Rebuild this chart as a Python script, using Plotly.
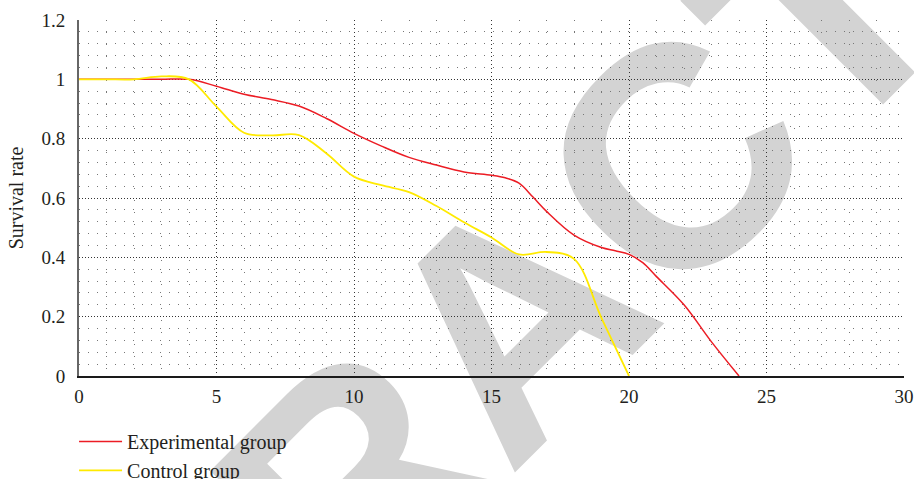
import plotly.graph_objects as go

# ---- data ----
exp_x = [0, 1, 2, 3, 4, 5, 6, 7, 8, 9, 10, 11, 12, 13, 14, 15, 15.5, 16, 16.5, 17, 18, 19, 19.5, 20, 20.5, 21, 22, 23, 24]
exp_y = [1.0, 1.0, 1.0, 1.0, 1.0, 0.977, 0.95, 0.932, 0.91, 0.868, 0.818, 0.775, 0.737, 0.711,
         0.688, 0.677, 0.668, 0.65, 0.604, 0.555, 0.475, 0.433, 0.422, 0.41, 0.382, 0.335, 0.24, 0.115, 0.0]

ctl_x = [0, 1, 2, 3, 4, 5, 6, 7, 8, 9, 10, 11, 12, 13, 14, 15, 16, 17, 18, 19, 20]
ctl_y = [1.0, 1.0, 1.0, 1.01, 1.0, 0.908, 0.82, 0.811, 0.812, 0.75, 0.672, 0.643, 0.62, 0.573,
         0.518, 0.467, 0.41, 0.418, 0.395, 0.195, 0.0]

x_tick_vals = [0, 5, 10, 15, 20, 25, 30]
y_tick_vals = [0, 0.2, 0.4, 0.6, 0.8, 1.0, 1.2]
y_tick_text = ["0", "0.2", "0.4", "0.6", "0.8", "1", "1.2"]

series_names = ["Experimental group", "Control group"]
y_title = "Survival rate"
watermark = "RETRACTED"

SERIF = "Liberation Serif, Times New Roman, serif"
TXT = "#231f20"

fig = go.Figure()
fig.add_trace(go.Scatter(x=exp_x, y=exp_y, mode="lines", name=series_names[0],
                         line=dict(color="#ec1c24", width=1.5, shape="spline", smoothing=1)))
fig.add_trace(go.Scatter(x=ctl_x, y=ctl_y, mode="lines", name=series_names[1],
                         line=dict(color="#ffea00", width=1.8, shape="spline", smoothing=1)))

# watermark (below the grid)
fig.add_shape(type="rect", xref="paper", yref="paper",
              x0=0.499, x1=0.501, y0=0.214, y1=0.216,
              layer="below", line=dict(width=0), fillcolor="rgba(0,0,0,0)",
              label=dict(text=watermark, textangle=-45, textposition="middle center",
                         font=dict(family="Liberation Sans, Arial, sans-serif", size=315,
                                   color="#d3d3d3", weight="bold")))

fig.update_layout(
    width=914, height=479,
    margin=dict(l=79, r=10, t=20, b=103, autoexpand=False),
    paper_bgcolor="white", plot_bgcolor="rgba(0,0,0,0)",
    font=dict(family=SERIF, size=19, color=TXT),
    showlegend=True,
    legend=dict(orientation="v", x=-0.006, xanchor="left", y=-0.129, yanchor="top",
                font=dict(family=SERIF, size=20, color=TXT), bgcolor="rgba(0,0,0,0)",
                itemwidth=43, tracegroupgap=0),
)

fig.update_xaxes(range=[0, 30], tickvals=x_tick_vals, ticks="", showline=True,
                 linecolor="#1a1a1a", linewidth=1.5, zeroline=False,
                 showgrid=True, gridcolor="#333333", gridwidth=1, griddash="1px,3px",
                 minor=dict(dtick=1, showgrid=True, gridcolor="#777777", gridwidth=1,
                            griddash="1px,11px", ticks=""),
                 tickfont=dict(family=SERIF, size=19, color=TXT), ticklabelstandoff=2,
                 fixedrange=True)
fig.update_yaxes(range=[0, 1.2], tickvals=y_tick_vals, ticktext=y_tick_text, ticks="",
                 showline=True, linecolor="#666666", linewidth=2, zeroline=False,
                 showgrid=True, gridcolor="#333333", gridwidth=1, griddash="1px,2px",
                 minor=dict(dtick=0.04, showgrid=True, gridcolor="#777777", gridwidth=1,
                            griddash="1px,8px", ticks=""),
                 tickfont=dict(family=SERIF, size=19, color=TXT), ticklabelstandoff=8,
                 title=dict(text=y_title, font=dict(family=SERIF, size=20, color=TXT), standoff=12),
                 fixedrange=True)

fig.write_html("out.html", config={"displayModeBar": False},
               post_script="document.body.style.margin='0px';document.body.style.overflow='hidden';")
